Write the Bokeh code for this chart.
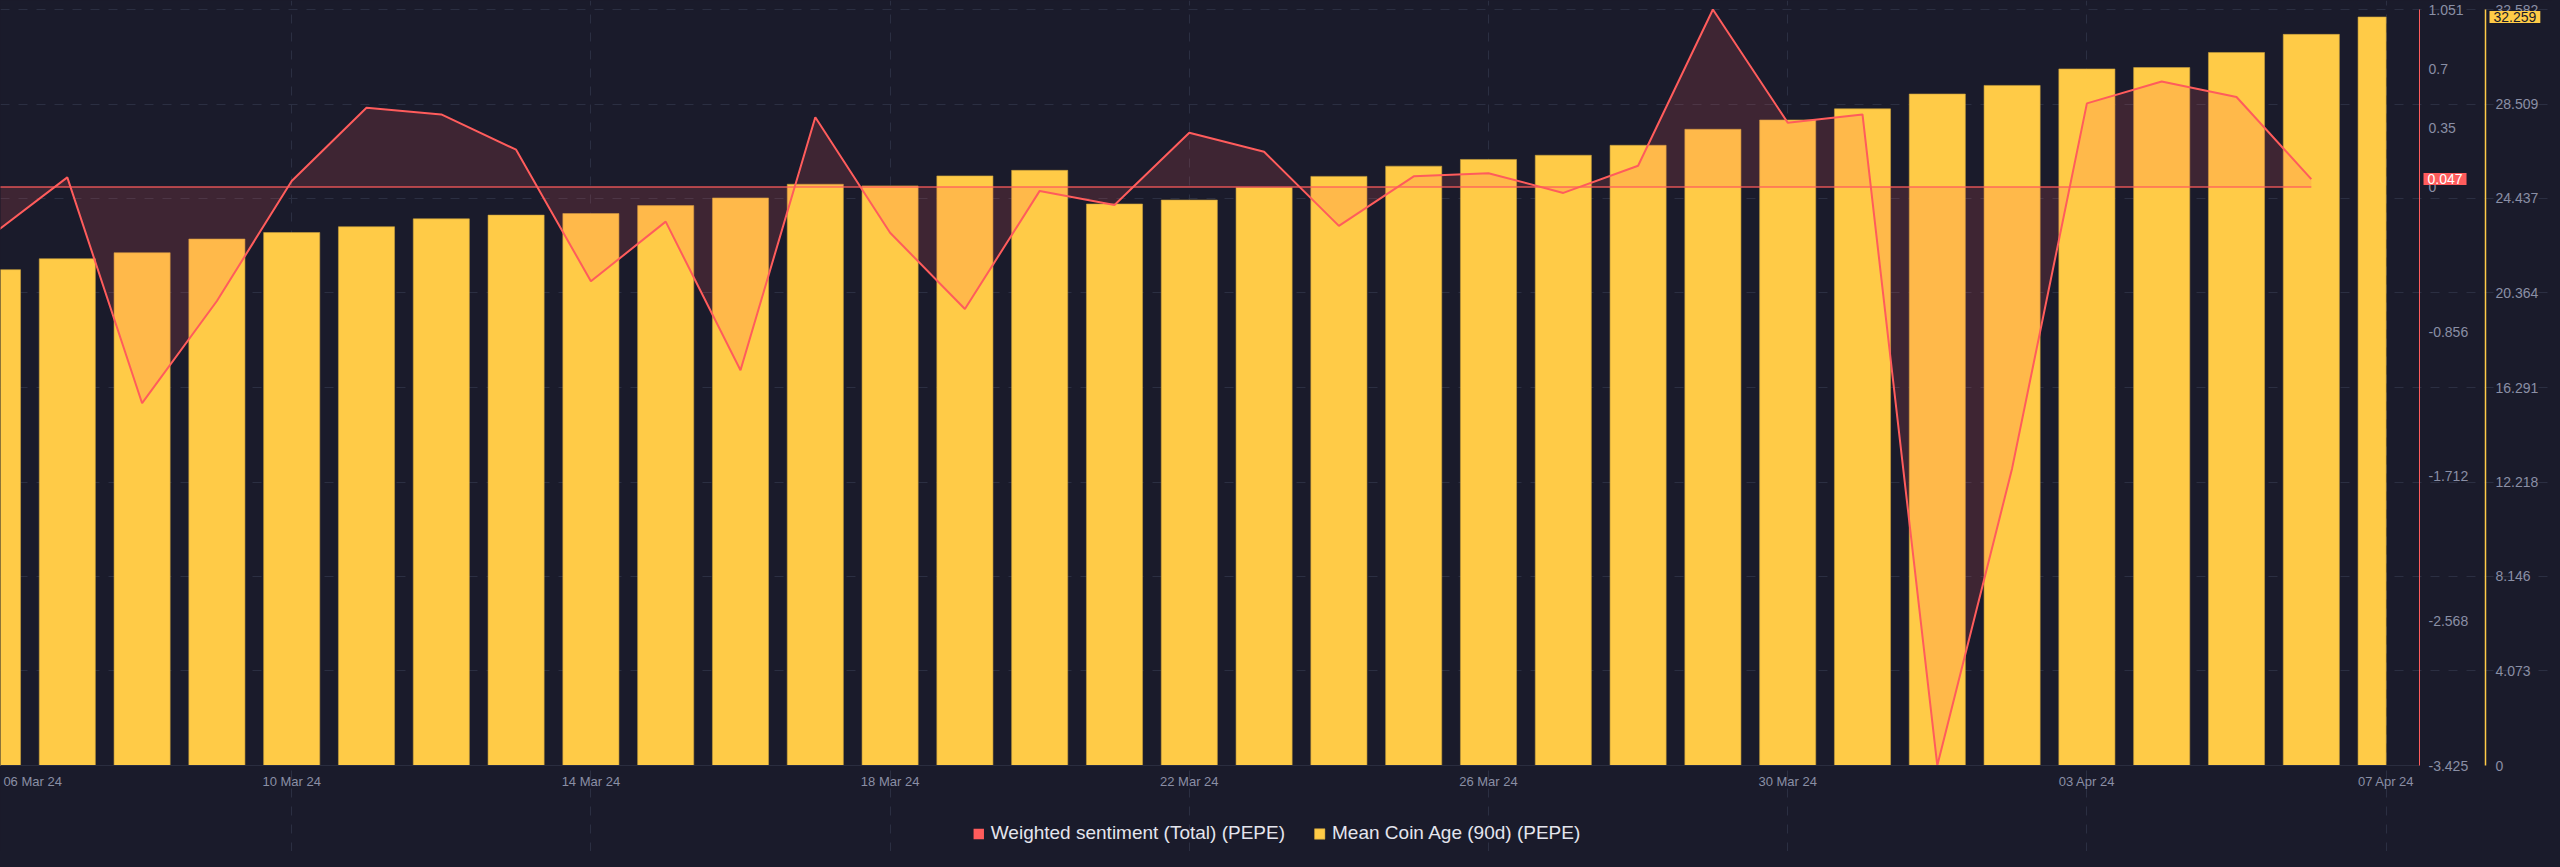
import pandas as pd
from bokeh.plotting import figure
from bokeh.models import (Range1d, LinearAxis, FixedTicker, CustomJSTickFormatter,
                          Legend, LegendItem, Label, DatetimeTickFormatter)
from bokeh.embed import file_html
from bokeh.resources import INLINE

# ---------------- data ----------------
dates = pd.date_range("2024-03-06", "2024-04-07", freq="D")
coin_age = [21.37, 21.84, 22.10, 22.69, 22.97, 23.22, 23.56, 23.72, 23.79, 24.13,
            24.46, 25.05, 24.98, 25.41, 25.65, 24.20, 24.37, 24.91, 25.39, 25.83,
            26.12, 26.30, 26.73, 27.42, 27.82, 28.30, 28.94, 29.31, 30.02, 30.08,
            30.73, 31.51, 32.259]
sentiment = [-0.281, 0.057, -1.280, -0.675, 0.036, 0.469, 0.430, 0.221, -0.558, -0.205,
             -1.085, 0.413, -0.271, -0.722, -0.023, -0.107, 0.321, 0.209, -0.230, 0.063,
             0.082, -0.035, 0.126, 1.051, 0.381, 0.430, -3.425, -1.666, 0.495, 0.625,
             0.533, 0.047]
x_tick_dates = ["2024-03-06", "2024-03-10", "2024-03-14", "2024-03-18", "2024-03-22",
                "2024-03-26", "2024-03-30", "2024-04-03", "2024-04-07"]
sent_ticks = [1.051, 0.7, 0.35, 0, -0.856, -1.712, -2.568, -3.425]
coin_ticks = [0, 4.073, 8.146, 12.218, 16.291, 20.364, 24.437, 28.509, 32.582]
series_names = ["Weighted sentiment (Total) (PEPE)", "Mean Coin Age (90d) (PEPE)"]

# ---------------- style / layout ----------------
BG = "#1a1b2b"
RED = "#ff5c5c"
YEL = "#ffcb47"
GREY = "#8a8fa5"
GRID = "#2b2f42"
FONT = "Liberation Sans"
DAY = 86400000.0
W, H = 2552, 851
FRAME_H = H                       # the frame covers the whole canvas
DATA_TOP, DATA_BOTTOM = 9, 765    # canvas y of the value-axis range ends
PX_DAY = 74.8                     # horizontal scale of the reference


def ms(d):
    return pd.Timestamp(d).value / 1e6


x = [ms(d) for d in dates]
sx = x[:len(sentiment)]
half = 0.375 * DAY
bar_left = [xi - half for xi in x]
bar_right = [min(xi + half, x[-1]) for xi in x]

x_start = x[0] + 8 / PX_DAY * DAY              # page x 8 (frame left)
x_end = x_start + W / PX_DAY * DAY             # frame spans the whole width
x_red = x[0] + 2427 / PX_DAY * DAY             # sentiment axis position
x_yel = x[0] + 2493 / PX_DAY * DAY             # coin-age axis position
s_lo, s_hi = sent_ticks[-1], sent_ticks[0]
c_lo, c_hi = coin_ticks[0], coin_ticks[-1]


def padded(lo, hi):
    k = (hi - lo) / (DATA_BOTTOM - DATA_TOP)
    return Range1d(lo - (FRAME_H - DATA_BOTTOM) * k, hi + DATA_TOP * k)


p = figure(width=W, height=H, x_axis_type="datetime",
           x_range=Range1d(x_start, x_end), y_range=padded(c_lo, c_hi),
           y_axis_location=None, output_backend="svg", toolbar_location=None,
           min_border_left=0, min_border_right=0, min_border_top=0, min_border_bottom=0,
           background_fill_color=BG, border_fill_color=BG, outline_line_color=None)
p.extra_y_ranges = {"sent": padded(s_lo, s_hi)}

# grids
p.xgrid.ticker = FixedTicker(ticks=[ms(d) for d in x_tick_dates])
p.xgrid.grid_line_color = GRID
p.xgrid.grid_line_dash = "9 9"
p.xgrid.bounds = (c_lo, c_hi)
p.ygrid.ticker = FixedTicker(ticks=coin_ticks[1:])
p.ygrid.grid_line_color = GRID
p.ygrid.grid_line_dash = "9 9"
p.ygrid.bounds = (x_start, x_red)

# bars
bars = p.quad(left=bar_left, right=bar_right, bottom=0, top=coin_age,
              fill_color=YEL, line_color="#c9a23e", line_width=1, line_alpha=0.6)

# sentiment area + line
p.varea(x=sx, y1=0, y2=sentiment, fill_color=RED, fill_alpha=0.16, y_range_name="sent")
p.line(x=[sx[0], sx[-1]], y=[0, 0], line_color=RED, line_width=1.5, line_alpha=0.85,
       y_range_name="sent")
p.line(x=sx, y=sentiment, line_color=RED, line_width=2, y_range_name="sent")
# zero-area quads at the sentiment points: invisible, give the legend a red key
red_key = p.quad(left=sx, right=sx, bottom=sentiment, top=sentiment, fill_color=RED,
                 line_alpha=0, y_range_name="sent")

# x axis drawn at coin-age 0; the first date label is pushed inside like the reference
first_label_pos = x_start + 0.43 * DAY
p.xaxis.fixed_location = c_lo
p.xaxis.ticker = FixedTicker(ticks=[first_label_pos] + [ms(d) for d in x_tick_dates[1:]])
p.xaxis.formatter = DatetimeTickFormatter(days="%d %b %y", months="%d %b %y",
                                          years="%d %b %y", hours="%d %b %y",
                                          hourmin="%d %b %y", minutes="%d %b %y")
p.xaxis.bounds = (x_start, x_red)
p.xaxis.axis_line_color = "#2a2d3f"
p.xaxis.major_tick_out = 0
p.xaxis.major_tick_in = 0
p.xaxis.minor_tick_out = 0
p.xaxis.minor_tick_in = 0
p.xaxis.major_label_text_color = GREY
p.xaxis.major_label_text_font = FONT
p.xaxis.major_label_text_font_size = "13px"
p.xaxis.major_label_standoff = 8

fmt = CustomJSTickFormatter(code="return tick.toString();")

ax_s = LinearAxis(y_range_name="sent", ticker=FixedTicker(ticks=sent_ticks), formatter=fmt,
                  fixed_location=x_red, bounds=(s_lo, s_hi),
                  axis_line_color=RED, axis_line_width=1,
                  major_tick_out=0, major_tick_in=0, minor_tick_out=0, minor_tick_in=0,
                  major_label_text_color=GREY, major_label_text_font=FONT,
                  major_label_text_font_size="14px", major_label_standoff=9)
p.add_layout(ax_s, "right")
ax_c = LinearAxis(ticker=FixedTicker(ticks=coin_ticks), formatter=fmt,
                  fixed_location=x_yel, bounds=(c_lo, c_hi),
                  axis_line_color=YEL, axis_line_width=1.5,
                  major_tick_out=0, major_tick_in=0, minor_tick_out=0, minor_tick_in=0,
                  major_label_text_color=GREY, major_label_text_font=FONT,
                  major_label_text_font_size="14px", major_label_standoff=10)
p.add_layout(ax_c, "right")

# last-value boxes on the two value axes
p.add_layout(Label(x=x_red, y=sentiment[-1], y_range_name="sent", x_offset=4,
                   text=f"{sentiment[-1]:.3f}", text_align="left", text_baseline="middle",
                   text_color="white", text_font=FONT, text_font_size="14px",
                   background_fill_color=RED, padding=(4, 1)))
p.add_layout(Label(x=x_yel, y=coin_age[-1], x_offset=4,
                   text=f"{coin_age[-1]:.3f}", text_align="left", text_baseline="middle",
                   text_color=BG, text_font=FONT, text_font_size="14px",
                   background_fill_color=YEL, padding=(4, 1)))

# series legend under the chart
legend = Legend(items=[LegendItem(label=series_names[0], renderers=[red_key]),
                       LegendItem(label=series_names[1], renderers=[bars])],
                orientation="horizontal", location="bottom_center",
                background_fill_alpha=0, border_line_alpha=0, padding=0, margin=7,
                label_text_color="#e4e5ee", label_text_font=FONT,
                label_text_font_size="19px", label_standoff=6, spacing=28,
                glyph_width=13, glyph_height=13)
p.add_layout(legend, "center")

html = None
try:
    html = file_html(p, INLINE, template="{% block postamble %}<style>html, body { background-color: "
                     + BG + "; }</style>{% endblock %}")
except Exception:
    html = None
if html is None:
    html = file_html(p, INLINE)
open("out.html", "w").write(html)
